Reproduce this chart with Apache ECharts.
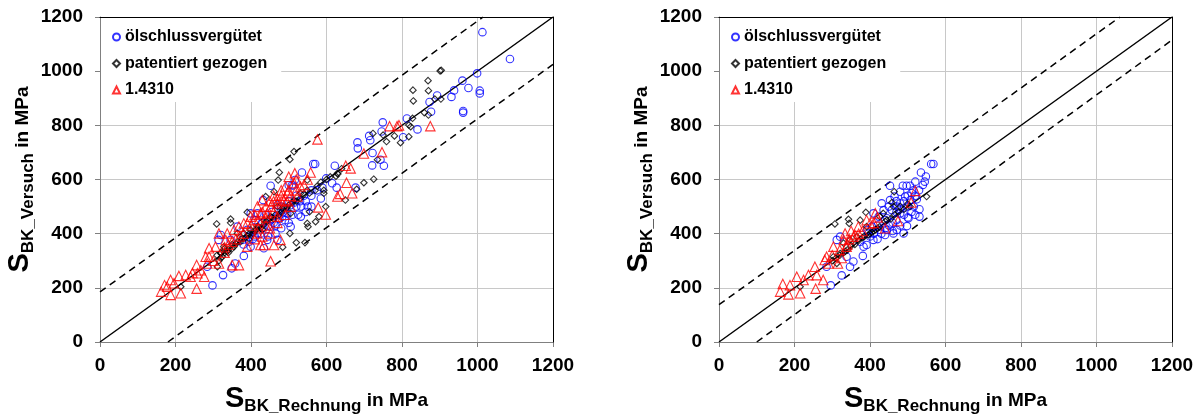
<!DOCTYPE html>
<html><head><meta charset="utf-8">
<script src="https://cdn.jsdelivr.net/npm/echarts@6/dist/echarts.min.js"></script>
<style>html,body{margin:0;padding:0;background:#fff}#c{width:1202px;height:416px}</style>
</head><body><div id="c"></div>
<script>
const seriesNames = ['ölschlussvergütet', 'patentiert gezogen', '1.4310'];
const axisMin = 0, axisMax = 1200, axisStep = 200;

// Left chart
const oelLeft = [[1013,1144],[1086,1045],[999,992],[960,965],[938,929],[976,938],[931,905],[1006,928],[1006,918],[962,853],[962,847],[893,910],[873,886],[877,850],[841,785],[813,825],[803,756],[749,811],[746,777],[713,761],[716,745],[682,737],[683,715],[722,698],[743,673],[752,651],[721,652],[622,651],[565,657],[570,657],[535,626],[516,598],[500,579],[508,579],[512,578],[452,577],[589,570],[599,604],[615,586],[627,570],[677,570],[585,530],[532,463],[533,500],[470,506],[432,524],[417,475],[412,450],[452,426],[417,401],[399,352],[381,318],[358,290],[349,272],[326,247],[298,209],[314,377],[320,395],[364,426],[377,377],[395,389],[390,414],[443,377],[483,463],[496,475],[505,426],[284,278],[346,377],[399,475],[470,377],[434,346],[460,440],[480,500],[520,540],[440,470],[560,560],[545,520],[500,520],[410,390],[430,420],
  [455,480],[470,470],[490,450],[510,470],[520,500],[530,520],[540,540],[550,500],[560,540],[575,560],[500,440],[480,420],[465,400],[445,390],[425,400],[405,380],[395,370],[380,360],[455,455],[475,455],[490,490],[505,505],[515,515],[525,470],[545,480],[560,500],[430,440],[445,430],[465,430],[485,480]];
const patLeft = [[901,1001],[904,1003],[869,965],[829,930],[870,928],[830,890],[887,897],[903,897],[859,847],[870,838],[828,826],[818,801],[823,795],[818,758],[780,761],[796,736],[759,740],[750,764],[723,770],[735,673],[725,601],[699,588],[680,564],[650,524],[629,623],[625,612],[593,549],[598,500],[580,463],[571,444],[551,426],[549,438],[555,481],[543,367],[520,367],[503,401],[484,350],[514,703],[503,674],[475,626],[472,598],[461,555],[439,537],[549,598],[390,479],[346,454],[346,440],[309,436],[364,401],[328,352],[320,327],[324,315],[311,278],[214,204],[417,426],[399,414],[381,401],[434,450],[452,463],[487,500],[514,524],[531,549],[505,475],[355,352],[337,334],[372,370],[408,410],[470,500],[549,560],[575,575],[593,560],[330,330],[340,340],[350,345],[360,362],[390,392],[420,425],[440,445],[460,455],[480,480],[500,505],[310,320],[320,330],[630,620],[600,600],
  [340,330],[350,360],[365,370],[375,380],[385,385],[395,400],[405,400],[415,415],[425,420],[435,435],[445,450],[455,460],[465,470],[475,470],[485,490],[495,495],[510,515],[520,520],[530,530],[540,545],[555,550],[570,560],[585,590],[610,610],[640,640],[320,310],[315,300],[330,345],[395,380],[430,415]];
const crLeft = [[576,748],[767,797],[787,797],[792,800],[875,797],[747,701],[699,696],[664,641],[651,651],[653,588],[629,537],[636,547],[668,549],[598,471],[578,497],[558,626],[516,623],[491,574],[531,574],[523,537],[505,500],[487,524],[470,512],[430,524],[417,500],[443,475],[470,463],[452,401],[461,358],[434,358],[425,358],[452,298],[478,377],[399,463],[390,438],[368,426],[337,401],[315,401],[333,377],[306,352],[289,346],[289,315],[284,290],[315,290],[368,284],[350,284],[276,241],[258,254],[256,197],[256,284],[240,241],[214,180],[209,244],[187,229],[187,174],[171,210],[162,186],[178,204],[196,217],[227,247],[245,255],[267,265],[280,315],[355,414],[381,438],[408,450],[425,475],[452,500],[496,549],[514,587],[417,401],[390,352],[330,330],[300,300],[460,520],[480,540],[500,560],[440,430],[360,380],
  [400,430],[410,470],[420,450],[430,480],[440,500],[450,520],[460,480],[470,530],[480,520],[495,520],[505,540],[520,560],[540,580],[550,600],[500,610],[520,600],[480,560],[460,540],[440,460],[420,420],[380,400],[370,390],[350,370],[340,360],[330,350],[410,380],[430,390],[450,420],[470,440],[490,470]];

// Right chart
const oelRight = [[568,657],[562,657],[535,626],[548,611],[545,592],[520,592],[506,577],[497,577],[487,577],[453,577],[480,555],[465,537],[493,537],[524,527],[531,490],[531,463],[502,457],[498,428],[480,475],[458,487],[431,512],[436,487],[445,457],[471,414],[462,401],[440,395],[427,414],[409,377],[391,358],[383,352],[374,370],[405,426],[409,475],[381,318],[356,297],[347,278],[325,246],[296,209],[321,389],[312,377],[338,315],[285,278],[480,512],[453,524],[471,500],[516,500],[507,524],[423,463],[392,414],[445,414],[489,401],[460,440],[500,500],[420,430],[395,400],[515,560],[440,450],[470,450],
  [450,500],[470,520],[490,520],[500,540],[510,550],[520,540],[530,560],[540,580],[470,480],[480,490],[490,470],[500,460],[510,480],[520,470],[440,420],[430,400],[420,380],[410,400],[400,390],[450,430],[460,410],[480,430]];
const patRight = [[550,537],[464,555],[458,515],[462,500],[343,453],[345,438],[307,436],[389,479],[374,450],[391,426],[400,401],[365,389],[347,377],[330,365],[321,327],[303,315],[312,290],[215,204],[426,463],[435,475],[480,500],[506,500],[340,340],[350,355],[360,360],[380,385],[410,410],[420,420],[440,445],[320,320],[330,330],[300,300],
  [370,375],[385,390],[395,395],[405,405],[415,415],[425,425],[445,450],[455,455],[465,470],[475,480],[490,490],[500,510],[310,310],[335,335]];
const crRight = [[520,558],[509,515],[474,447],[440,420],[414,475],[391,450],[400,438],[369,426],[356,389],[334,401],[330,377],[338,352],[303,352],[285,315],[280,303],[315,290],[254,278],[259,247],[276,229],[256,197],[237,247],[206,241],[215,180],[184,176],[162,186],[169,214],[188,210],[224,229],[350,410],[300,320],
  [320,340],[340,360],[345,380],[360,395],[370,400],[380,410],[325,310],[290,290],[410,440],[420,460]];

// Reference lines
const diagLine = [[0,0],[1200,1200]];
const upperLeft = [[0,185],[1015,1200]];
const lowerLeft = [[180,0],[1200,1025]];
const upperRight = [[0,138],[1062,1200]];
const lowerRight = [[100,0],[1200,1115]];

const FONT = '"Liberation Sans", Arial, sans-serif';
const rich = {
  s: {fontSize: 29, fontWeight: 'bold', fontFamily: FONT, color: '#000', verticalAlign: 'bottom', lineHeight: 34, padding: [0,0,2,0]},
  sub: {fontSize: 17, fontWeight: 'bold', fontFamily: FONT, color: '#000', verticalAlign: 'bottom', lineHeight: 20, padding: [0,0,0,0]},
  t: {fontSize: 19, fontWeight: 'bold', fontFamily: FONT, color: '#000', verticalAlign: 'bottom', lineHeight: 22, padding: [0,0,5,0]}
};
const plainLabel = function (v) { return String(v); };
function mainX(gi) {
  return {
    type: 'value', gridIndex: gi, min: axisMin, max: axisMax, interval: axisStep,
    axisLine: {show: true, lineStyle: {color: '#808080', width: 1}},
    axisTick: {show: true, inside: false, length: 5, lineStyle: {color: '#808080'}},
    axisLabel: {fontSize: 19, fontWeight: 'bold', fontFamily: FONT, color: '#000', margin: 14, formatter: plainLabel},
    splitLine: {show: true, lineStyle: {color: '#c8c8c8', width: 1}},
    name: '{s|S}{sub|BK_Rechnung}{t| in MPa}', nameLocation: 'middle', nameGap: 39,
    nameTextStyle: {rich: rich}
  };
}
function mainY(gi) {
  return {
    type: 'value', gridIndex: gi, min: axisMin, max: axisMax, interval: axisStep,
    axisLine: {show: true, lineStyle: {color: '#808080', width: 1}},
    axisTick: {show: true, inside: false, length: 5, lineStyle: {color: '#808080'}},
    axisLabel: {fontSize: 19, fontWeight: 'bold', fontFamily: FONT, color: '#000', margin: 17, formatter: plainLabel},
    splitLine: {show: true, lineStyle: {color: '#c8c8c8', width: 1}},
    name: '{s|S}{sub|BK_Versuch}{t| in MPa}', nameLocation: 'middle', nameGap: 62, nameRotate: 90,
    nameTextStyle: {rich: rich}
  };
}
function borderAxis(gi, pos) {
  return {
    type: 'value', gridIndex: gi, position: pos, min: axisMin, max: axisMax, interval: axisStep, z: 5,
    axisLine: {show: true, onZero: false, lineStyle: {color: '#000', width: 1}},
    axisTick: {show: false}, axisLabel: {show: false}, splitLine: {show: false}
  };
}
function legend(left) {
  return {
    orient: 'vertical', left: left, top: 18, itemWidth: 7, itemHeight: 7, itemGap: 6.5,
    backgroundColor: '#fff', padding: [9, 14, 2, 11], selectedMode: false,
    textStyle: {fontSize: 16, fontWeight: 'bold', fontFamily: FONT, color: '#000', lineHeight: 20},
    data: seriesNames
  };
}
function refLine(data, xi, dashed) {
  return {type: 'line', xAxisIndex: xi, yAxisIndex: xi, data: data, symbol: 'none', silent: true, z: 1,
    lineStyle: {color: '#000', width: 1.5, type: dashed ? [7, 5] : 'solid'}, animation: false};
}
function scat(name, data, xi, kind) {
  const cfg = {
    circle: {symbol: 'circle', size: 7.5, color: '#0000ff'},
    diamond: {symbol: 'diamond', size: 6.5, color: '#000000'},
    triangle: {symbol: 'triangle', size: 9.5, color: '#ff0000'}
  }[kind];
  return {type: 'scatter', name: name, xAxisIndex: xi, yAxisIndex: xi, data: data, z: 2,
    symbol: cfg.symbol, symbolSize: cfg.size, animation: false,
    itemStyle: {color: 'rgba(255,255,255,0)', borderColor: cfg.color, borderWidth: 1.1}};
}
const chart = echarts.init(document.getElementById('c'), null, {renderer: 'canvas'});
chart.setOption({
  animation: false,
  grid: [
    {left: 100, right: 649, top: 17, bottom: 74, containLabel: false, outerBoundsMode: 'none'},
    {left: 719, right: 30, top: 17, bottom: 74, containLabel: false, outerBoundsMode: 'none'}
  ],
  xAxis: [mainX(0), mainX(1), borderAxis(0, 'top'), borderAxis(1, 'top')],
  yAxis: [mainY(0), mainY(1), borderAxis(0, 'right'), borderAxis(1, 'right')],
  legend: [legend(101), legend(720)],
  series: [
    refLine(diagLine, 0, false), refLine(upperLeft, 0, true), refLine(lowerLeft, 0, true),
    refLine(diagLine, 1, false), refLine(upperRight, 1, true), refLine(lowerRight, 1, true),
    scat(seriesNames[0], oelLeft, 0, 'circle'),
    scat(seriesNames[1], patLeft, 0, 'diamond'),
    scat(seriesNames[2], crLeft, 0, 'triangle'),
    scat(seriesNames[0], oelRight, 1, 'circle'),
    scat(seriesNames[1], patRight, 1, 'diamond'),
    scat(seriesNames[2], crRight, 1, 'triangle')
  ]
});
</script></body></html>
